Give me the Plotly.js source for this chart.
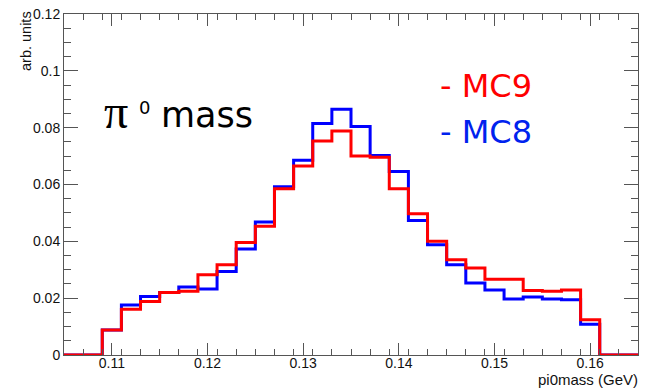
<!DOCTYPE html>
<html>
<head>
<meta charset="utf-8">
<script src="https://cdn.plot.ly/plotly-3.0.1.min.js"></script>
<style>html,body{margin:0;padding:0;background:#fff;}#chart{width:645px;height:389px;}</style>
</head>
<body>
<div id="chart"></div>
<script>
// Histogram bin edges (GeV): 30 bins of 0.002 from 0.105 to 0.165
const binEdges = [0.105,0.107,0.109,0.111,0.113,0.115,0.117,0.119,0.121,0.123,0.125,
  0.127,0.129,0.131,0.133,0.135,0.137,0.139,0.141,0.143,0.145,
  0.147,0.149,0.151,0.153,0.155,0.157,0.159,0.161,0.163,0.165];
// MC9 (red) bin contents
const mc9 = [0,0,0.0088,0.0161,0.0188,0.0220,0.0224,0.0282,0.0318,0.0396,
  0.0453,0.0585,0.0665,0.0753,0.0788,0.0700,0.0696,0.0585,0.0497,0.0400,
  0.0335,0.0306,0.0267,0.0267,0.0227,0.0224,0.0229,0.0124,0,0];
// MC8 (blue) bin contents
const mc8 = [0,0,0.0088,0.0176,0.0206,0.0220,0.0239,0.0232,0.0294,0.0373,
  0.0468,0.0592,0.0685,0.0815,0.0865,0.0804,0.0702,0.0646,0.0473,0.0388,
  0.0318,0.0253,0.0229,0.0197,0.0204,0.0197,0.0194,0.0108,0,0];
const xTickVals = [0.11,0.12,0.13,0.14,0.15,0.16];
const yTickVals = [0,0.02,0.04,0.06,0.08,0.1,0.12];

function stepY(v){ return v.concat([v[v.length-1]]); }

const W=645,H=389,L=64,R=7,T=14,B=34;
const pw=W-L-R, ph=H-T-B;
const px=x=>(x-L)/pw, py=y=>(H-B-y)/ph;

const traces=[
  {x:binEdges,y:stepY(mc8),type:'scatter',mode:'lines',line:{shape:'hv',color:'#0000ff',width:3},hoverinfo:'skip',name:'MC8'},
  {x:binEdges,y:stepY(mc9),type:'scatter',mode:'lines',line:{shape:'hv',color:'#ff0000',width:3},hoverinfo:'skip',name:'MC9'}
];
const axisCommon={showgrid:false,zeroline:false,showline:true,linecolor:'#555',linewidth:1,
  ticks:'inside',mirror:'ticks',tickcolor:'#555',tickwidth:1,
  tickfont:{family:'Liberation Sans, Arial, sans-serif',size:14,color:'#111'}};
const layout={
  width:W,height:H,margin:{l:L,r:R,t:T,b:B},showlegend:false,
  paper_bgcolor:'#fff',plot_bgcolor:'#fff',
  xaxis:Object.assign({},axisCommon,{range:[0.105,0.165],tickvals:xTickVals,ticklen:12,ticklabelstandoff:-5,
    minor:{dtick:0.002,tick0:0.105,ticks:'inside',ticklen:6,tickcolor:'#555'}}),
  yaxis:Object.assign({},axisCommon,{range:[0,0.12],tickvals:yTickVals,ticklen:14,
    minor:{dtick:0.005,tick0:0,ticks:'inside',ticklen:7,tickcolor:'#555'}}),
  annotations:[
    {xref:'paper',yref:'paper',x:px(102),y:py(112),xanchor:'left',yanchor:'middle',showarrow:false,
     text:'π',font:{family:'Liberation Serif',size:48,color:'#000'}},
    {xref:'paper',yref:'paper',x:px(137),y:py(107),xanchor:'left',yanchor:'middle',showarrow:false,
     text:'0',font:{family:'DejaVu Sans',size:18,color:'#000'}},
    {xref:'paper',yref:'paper',x:px(159),y:py(115.5),xanchor:'left',yanchor:'middle',showarrow:false,
     text:'mass',font:{family:'DejaVu Sans',size:35,color:'#000'}},
    {xref:'paper',yref:'paper',x:px(438),y:py(86),xanchor:'left',yanchor:'middle',showarrow:false,
     text:'- MC9',font:{family:'DejaVu Sans',size:32,color:'#ff0000'}},
    {xref:'paper',yref:'paper',x:px(438),y:py(131.5),xanchor:'left',yanchor:'middle',showarrow:false,
     text:'- MC8',font:{family:'DejaVu Sans',size:32,color:'#0022ee'}},
    {xref:'paper',yref:'paper',x:px(26),y:py(9),xanchor:'center',yanchor:'top',textangle:-90,showarrow:false,
     text:'arb. units',font:{family:'Liberation Sans, Arial, sans-serif',size:14.5,color:'#111'}},
    {xref:'paper',yref:'paper',x:px(640),y:py(379),xanchor:'right',yanchor:'middle',showarrow:false,
     text:'pi0mass (GeV)',font:{family:'Liberation Sans, Arial, sans-serif',size:15,color:'#111'}}
  ]
};
Plotly.newPlot('chart',traces,layout,{staticPlot:true,displayModeBar:false});
</script>
</body>
</html>
